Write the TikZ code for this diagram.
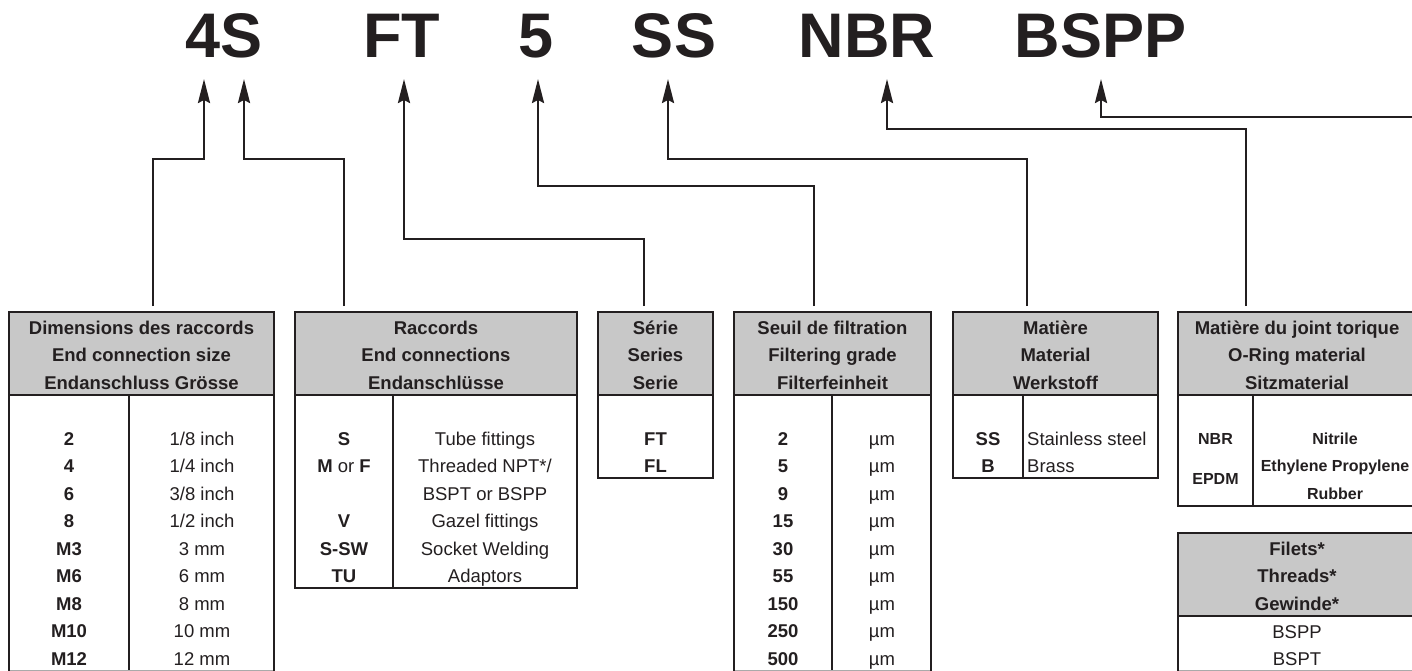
\documentclass[tikz,border=0pt]{standalone}
\usepackage{fontspec}
\setmainfont{Liberation Sans}
\usetikzlibrary{arrows.meta}
\definecolor{ink}{RGB}{35,31,32}
\definecolor{headgray}{RGB}{200,200,200}
\definecolor{thingray}{RGB}{170,170,170}
\begin{document}
\begin{tikzpicture}[x=1pt,y=-1pt,
  conn/.style={draw=ink,line width=2.5pt},
  arr/.style={conn,-{Stealth[length=24pt,width=12pt,inset=3pt]}},
  tabline/.style={draw=ink,line width=2pt},
  head/.style={fill=headgray,draw=ink,line width=2pt},
  code/.style={font=\bfseries\fontsize{63}{63}\selectfont,text=ink,anchor=base,inner sep=0pt},
  ht/.style={font=\bfseries\fontsize{18.5}{20}\selectfont,text=ink,anchor=base,inner sep=0pt},
  bt/.style={font=\fontsize{18.5}{20}\selectfont,text=ink,anchor=base,inner sep=0pt},
  bb/.style={font=\bfseries\fontsize{18.5}{20}\selectfont,text=ink,anchor=base,inner sep=0pt},
  sb/.style={font=\bfseries\fontsize{16}{18}\selectfont,text=ink,anchor=base,inner sep=0pt},
  bl/.style={bt,anchor=base west},
  thin/.style={draw=thingray,line width=1pt},
]
\useasboundingbox (0,0) rectangle (1412,671);
\clip (0,0) rectangle (1412,671);

% ---------- code letters ----------
\node[code] (c4S) at (224,58) {4S};
\node[code] (cFT) at (401.5,58) {FT};
\node[code] (c5) at (536.5,58) {5};
\node[code] (cSS) at (674,58) {SS};
\node[code] (cNBR) at (867,58) {NBR};
\node[code] (cBSPP) at (1100.5,58) {BSPP};

% arrow tips
\coordinate (a1) at (204,79);
\coordinate (a2) at (244,79);
\coordinate (a3) at (404,79);
\coordinate (a4) at (538,79);
\coordinate (a5) at (668,79);
\coordinate (a6) at (887,79);
\coordinate (a7) at (1101,79);

% table entry points
\coordinate (p1) at (153,306);
\coordinate (p2) at (344,306);
\coordinate (p3) at (644,306);
\coordinate (p4) at (814,306);
\coordinate (p5) at (1027,306);
\coordinate (p6) at (1246,306);
\coordinate (p7) at (1420,117);

% ---------- connectors ----------
\draw[arr] (p1) |- (a1 |- 0,159) -- (a1);
\draw[arr] (p2) |- (a2 |- 0,159) -- (a2);
\draw[arr] (p3) |- (a3 |- 0,239) -- (a3);
\draw[arr] (p4) |- (a4 |- 0,186) -- (a4);
\draw[arr] (p5) |- (a5 |- 0,159) -- (a5);
\draw[arr] (p6) |- (a6 |- 0,129) -- (a6);
\draw[arr] (p7) -- (a7 |- 0,117) -- (a7);

% ---------- Table 1 ----------
\path[head] (9,312) rectangle (274,395);
\node[ht] (t1h1) at (141.5,334) {Dimensions des raccords};
\node[ht] (t1h2) at (141.5,361.5) {End connection size};
\node[ht] (t1h3) at (141.5,389) {Endanschluss Grösse};
\draw[tabline] (9,395) -- (9,673) (274,395) -- (274,673) (129,395) -- (129,673);
\draw[thin] (10,670) -- (273,670);
\foreach \a/\b [count=\i] in {2/1\slash 8 inch,4/1\slash 4 inch,6/3\slash 8 inch,8/1\slash 2 inch,M3/3 mm,M6/6 mm,M8/8 mm,M10/10 mm,M12/12 mm}{
  \node[bb] (t1a\i) at (69,{445+27.5*(\i-1)}) {\a};
  \node[bt] (t1b\i) at (202,{445+27.5*(\i-1)}) {\b};
}

% ---------- Table 2 ----------
\path[head] (295,312) rectangle (577,395);
\node[ht] (t2h1) at (436,334) {Raccords};
\node[ht] (t2h2) at (436,361.5) {End connections};
\node[ht] (t2h3) at (436,389) {Endanschlüsse};
\draw[tabline] (295,395) rectangle (577,588) (393,395) -- (393,588);
\node[bb] (t2a1) at (344,445) {S};
\node[bt] (t2a2) at (344,472.5) {\textbf{M} or \textbf{F}};
\node[bb] (t2a4) at (344,527.5) {V};
\node[bb] (t2a5) at (344,555) {S-SW};
\node[bb] (t2a6) at (344,582.5) {TU};
\node[bt] (t2b1) at (485,445) {Tube fittings};
\node[bt] (t2b2) at (485,472.5) {Threaded NPT*/};
\node[bt] (t2b3) at (485,500) {BSPT or BSPP};
\node[bt] (t2b4) at (485,527.5) {Gazel fittings};
\node[bt] (t2b5) at (485,555) {Socket Welding};
\node[bt] (t2b6) at (485,582.5) {Adaptors};

% ---------- Table 3 ----------
\path[head] (598,312) rectangle (713,395);
\node[ht] (t3h1) at (655.5,334) {Série};
\node[ht] (t3h2) at (655.5,361.5) {Series};
\node[ht] (t3h3) at (655.5,389) {Serie};
\draw[tabline] (598,395) rectangle (713,478);
\node[bb] (t3a1) at (655.5,445) {FT};
\node[bb] (t3a2) at (655.5,472.5) {FL};

% ---------- Table 4 ----------
\path[head] (734,312) rectangle (931,395);
\node[ht] (t4h1) at (832.5,334) {Seuil de filtration};
\node[ht] (t4h2) at (832.5,361.5) {Filtering grade};
\node[ht] (t4h3) at (832.5,389) {Filterfeinheit};
\draw[tabline] (734,395) -- (734,673) (931,395) -- (931,673) (832,395) -- (832,673);
\draw[thin] (735,670) -- (930,670);
\foreach \a [count=\i] in {2,5,9,15,30,55,150,250,500}{
  \node[bb] (t4a\i) at (783,{445+27.5*(\i-1)}) {\a};
  \node[bt] (t4b\i) at (882,{445+27.5*(\i-1)}) {µm};
}

% ---------- Table 5 ----------
\path[head] (953,312) rectangle (1158,395);
\node[ht] (t5h1) at (1055.5,334) {Matière};
\node[ht] (t5h2) at (1055.5,361.5) {Material};
\node[ht] (t5h3) at (1055.5,389) {Werkstoff};
\draw[tabline] (953,395) rectangle (1158,478) (1023,395) -- (1023,478);
\node[bb] (t5a1) at (988,445) {SS};
\node[bb] (t5a2) at (988,472.5) {B};
\node[bl] (t5b1) at (1027,445) {Stainless steel};
\node[bl] (t5b2) at (1027,472.5) {Brass};

% ---------- Table 6 ----------
\path[head] (1178,312) rectangle (1430,395);
\node[ht] (t6h1) at (1297,334) {Matière du joint torique};
\node[ht] (t6h2) at (1297,361.5) {O-Ring material};
\node[ht] (t6h3) at (1297,389) {Sitzmaterial};
\draw[tabline] (1178,395) -- (1178,506) -- (1430,506) (1253,395) -- (1253,506);
\node[sb] (t6a1) at (1215.5,444) {NBR};
\node[sb] (t6a2) at (1215.5,484) {EPDM};
\node[sb] (t6b1) at (1335,444) {Nitrile};
\node[sb] (t6b2) at (1335,471.5) {Ethylene Propylene};
\node[sb] (t6b3) at (1335,499) {Rubber};

% ---------- Table 7 ----------
\path[head] (1178,533) rectangle (1430,616);
\node[ht] (t7h1) at (1297,555) {Filets*};
\node[ht] (t7h2) at (1297,582.5) {Threads*};
\node[ht] (t7h3) at (1297,610) {Gewinde*};
\draw[tabline] (1178,616) -- (1178,673);
\draw[thin] (1179,670) -- (1420,670);
\node[bt] (t7a1) at (1297,638.5) {BSPP};
\node[bt] (t7a2) at (1297,665.5) {BSPT};
\end{tikzpicture}
\end{document}
